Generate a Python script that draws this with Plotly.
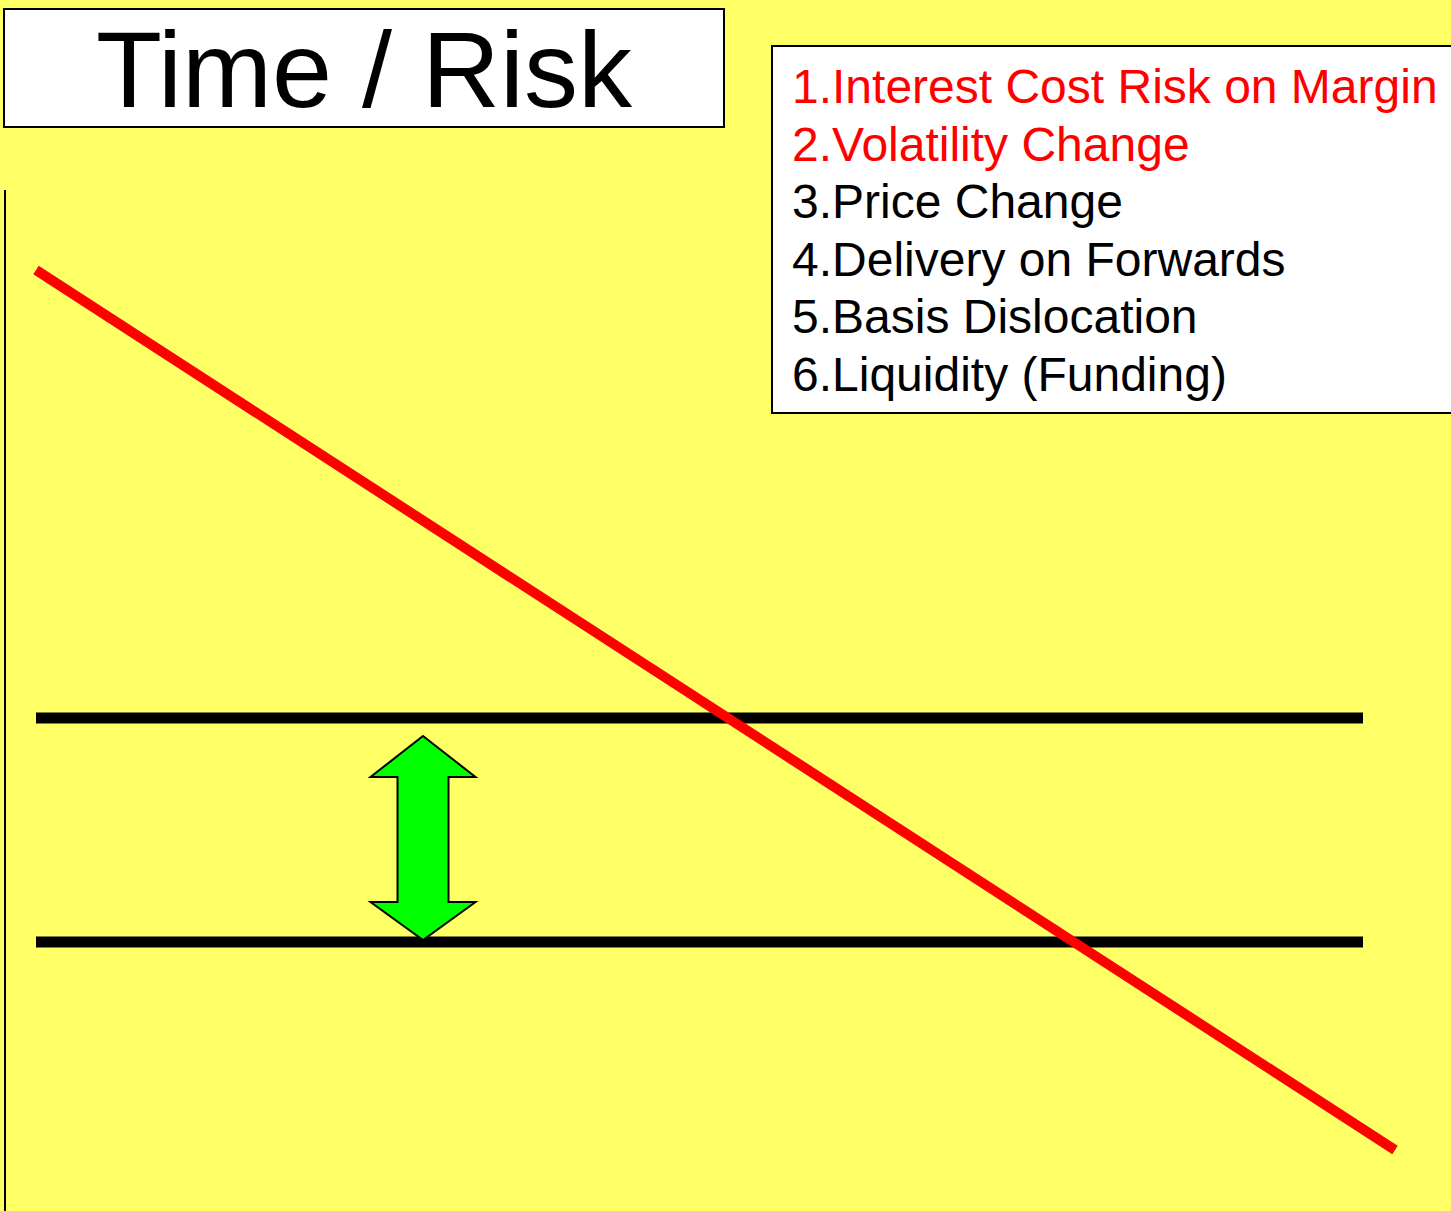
import plotly.graph_objects as go

# ---- data ----
risk_x = [36, 1395]          # red declining risk line (start/end)
risk_y = [270, 1150]
band_levels = [718, 942]     # two horizontal black bands
band_x = [36, 1363]
axis_x = [5, 5]
axis_y = [190, 1211]

title_text = "Time / Risk"
risk_items = [
    "1.Interest Cost Risk on Margin",
    "2.Volatility Change",
    "3.Price Change",
    "4.Delivery on Forwards",
    "5.Basis Dislocation",
    "6.Liquidity (Funding)",
]
risk_colors = ["#FF0000", "#FF0000", "#000000", "#000000", "#000000", "#000000"]

W, H = 1451, 1211
BG = "#FFFF66"
FONT = "Liberation Sans, Arial, sans-serif"

fig = go.Figure()

# vertical axis line at left
fig.add_trace(go.Scatter(x=axis_x, y=axis_y, mode="lines",
                         line=dict(color="black", width=2), hoverinfo="skip"))

# horizontal bands
for lvl in band_levels:
    fig.add_trace(go.Scatter(x=band_x, y=[lvl, lvl], mode="lines",
                             line=dict(color="black", width=11), hoverinfo="skip"))

# red risk line
fig.add_trace(go.Scatter(x=risk_x, y=risk_y, mode="lines",
                         line=dict(color="#FF0000", width=10), hoverinfo="skip"))

# green double arrow between the bands
ax_c = 423
tip_top, head_top = 736, 777
head_bot, tip_bot = 902, 940
hw, sw = 52.5, 25.5
path = (f"M {ax_c} {tip_top} L {ax_c+hw} {head_top} L {ax_c+sw} {head_top} "
        f"L {ax_c+sw} {head_bot} L {ax_c+hw} {head_bot} L {ax_c} {tip_bot} "
        f"L {ax_c-hw} {head_bot} L {ax_c-sw} {head_bot} L {ax_c-sw} {head_top} "
        f"L {ax_c-hw} {head_top} Z")
fig.add_shape(type="path", path=path, xref="x", yref="y",
              fillcolor="#00FF00", line=dict(color="black", width=2), layer="above")

# title box
fig.add_shape(type="rect", x0=4, y0=9, x1=724, y1=127, xref="x", yref="y",
              fillcolor="white", line=dict(color="black", width=2), layer="below")
fig.add_annotation(x=364, y=69, xref="x", yref="y", text=title_text,
                   showarrow=False, font=dict(family=FONT, size=108, color="black"),
                   xanchor="center", yanchor="middle")

# list box
fig.add_shape(type="rect", x0=772, y0=46, x1=1460, y1=413, xref="x", yref="y",
              fillcolor="white", line=dict(color="black", width=2), layer="below")
for i, (txt, col) in enumerate(zip(risk_items, risk_colors)):
    fig.add_annotation(x=790, y=86.5 + i * 57.6, xref="x", yref="y", text=txt,
                       showarrow=False, font=dict(family=FONT, size=48, color=col),
                       xanchor="left", yanchor="middle")

fig.update_layout(
    width=W, height=H,
    margin=dict(l=0, r=0, t=0, b=0),
    paper_bgcolor=BG, plot_bgcolor=BG,
    showlegend=False,
    xaxis=dict(range=[0, W], visible=False, fixedrange=True),
    yaxis=dict(range=[H, 0], visible=False, fixedrange=True),
)

fig.write_html("out.html", config={"displayModeBar": False},
               post_script="document.body.style.margin='0';document.body.style.overflow='hidden';")
